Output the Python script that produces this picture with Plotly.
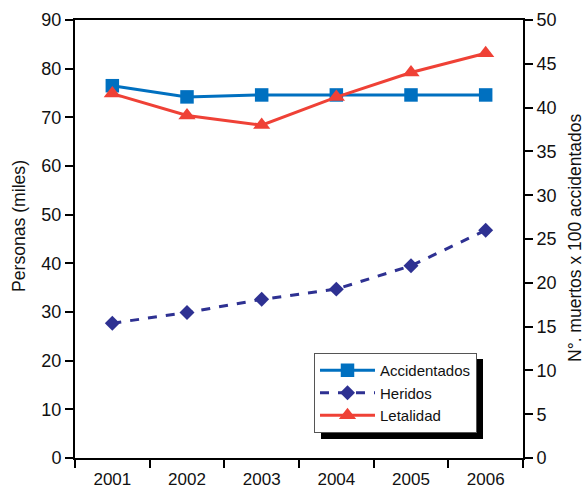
import plotly.graph_objects as go

years = ["2001", "2002", "2003", "2004", "2005", "2006"]
accidentados = [76.5, 74.2, 74.6, 74.6, 74.6, 74.6]
heridos = [27.7, 29.9, 32.6, 34.7, 39.5, 46.8]
letalidad = [41.6, 39.1, 38.0, 41.2, 44.0, 46.2]

FONT = "Liberation Sans, Arial, sans-serif"

fig = go.Figure()
fig.add_trace(go.Scatter(
    x=years, y=accidentados, name="Accidentados", mode="lines+markers",
    line=dict(color="#0070C0", width=3),
    marker=dict(symbol="square", size=13.5, color="#0070C0"),
))
fig.add_trace(go.Scatter(
    x=years, y=heridos, name="Heridos", mode="lines+markers",
    line=dict(color="#2E3192", width=3, dash="dash"),
    marker=dict(symbol="diamond", size=11.5, color="#2E3192"),
))
fig.add_trace(go.Scatter(
    x=years, y=letalidad, name="Letalidad", mode="lines+markers", yaxis="y2",
    line=dict(color="#EF4136", width=3),
    marker=dict(symbol="triangle-up", size=15, color="#EF4136"),
))

W, H = 584, 490
PL, PR, PT, PB = 75, 523, 20, 458  # plot area in page pixels
L, T, R, B = PL, PT, W - PR, H - PB
pw, ph = PR - PL, PB - PT

def px2paper(x, y):
    return (x - PL) / pw, (PB - y) / ph

lx0, ly0 = px2paper(314, 353)
sx0, sy0 = px2paper(321, 359)
sx1, sy1 = px2paper(483, 439)
tlx, tly = px2paper(19, 226)
trx, try_ = px2paper(575, 238)

fig.update_layout(
    width=W, height=H,
    margin=dict(l=L, r=R, t=T, b=B, autoexpand=False),
    paper_bgcolor="white", plot_bgcolor="white",
    font=dict(family=FONT, size=17, color="#111"),
    showlegend=True,
    legend=dict(
        x=lx0, y=ly0, xanchor="left", yanchor="top",
        bgcolor="white", bordercolor="#555", borderwidth=1,
        font=dict(size=15, family=FONT, color="#111"),
        itemwidth=55,
    ),
    xaxis=dict(
        type="category", range=[-0.5, 5.5], tickson="boundaries",
        ticks="outside", ticklen=8, tickwidth=2, tickcolor="black",
        showline=True, linecolor="black", linewidth=2, mirror=True,
        showgrid=False, zeroline=False, automargin=False,
        tickfont=dict(size=17), ticklabelstandoff=5,
    ),
    yaxis=dict(
        range=[0, 90], dtick=10, ticks="outside", ticklen=8, tickwidth=2,
        tickcolor="black", showline=True, linecolor="black", linewidth=2,
        showgrid=False, zeroline=False, automargin=False,
        tickfont=dict(size=18),
    ),
    yaxis2=dict(
        range=[0, 50], dtick=5, overlaying="y", side="right",
        ticks="outside", ticklen=8, tickwidth=2, tickcolor="black",
        showline=True, linecolor="black", linewidth=2,
        showgrid=False, zeroline=False, automargin=False,
        tickfont=dict(size=18),
    ),
    annotations=[
        dict(text="Personas (miles)", xref="paper", yref="paper", x=tlx, y=tly,
             textangle=-90, showarrow=False, font=dict(size=17.6),
             xanchor="center", yanchor="middle"),
        dict(text="N°. muertos x 100 accidentados", xref="paper", yref="paper", x=trx, y=try_,
             textangle=-90, showarrow=False, font=dict(size=17.5),
             xanchor="center", yanchor="middle"),
    ],
    shapes=[dict(
        type="rect", xref="paper", yref="paper",
        x0=sx0, y0=sy1, x1=sx1, y1=sy0,
        fillcolor="black", line=dict(width=0), layer="above",
    )],
)

fig.write_html("out.html", config={"displayModeBar": False},
               post_script="document.body.style.margin='0';")
